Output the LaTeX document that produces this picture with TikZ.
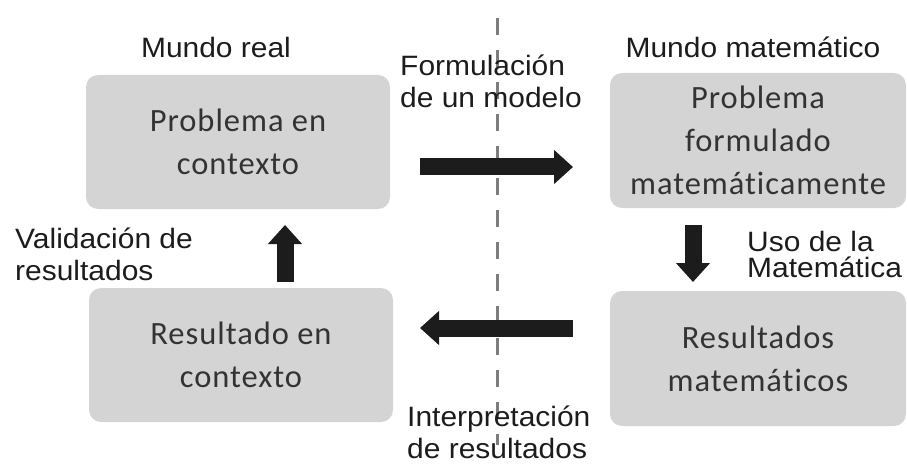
\documentclass[tikz,border=0pt]{standalone}
\usepackage{fontspec}
\setmainfont{Liberation Sans}[FakeStretch=1.07]
\newfontfamily\cajafont[LetterSpace=3,Ligatures=NoCommon]{Carlito}
\usepackage{tikz}
\usetikzlibrary{arrows.meta}
\definecolor{cajagris}{RGB}{212,212,212}
\definecolor{tinta}{RGB}{28,28,28}
\definecolor{guiones}{RGB}{125,125,125}

\tikzset{
  caja/.style={rectangle,rounded corners=12pt,fill=cajagris,text=tinta!90,
    font=\cajafont\fontsize{32.5}{43}\selectfont,align=center,inner sep=0pt},
  rotulo/.style={font=\fontsize{28}{32}\selectfont,text=tinta,align=left,inner sep=0pt},
  flecha/.style={tinta,line width=17pt,-{Triangle[length=19pt,width=33pt]}},
}

\begin{document}
\begin{tikzpicture}[x=1pt,y=-1pt]
\useasboundingbox (0,0) rectangle (907,465);

\coordinate (corte arriba) at (497,18);
\coordinate (corte abajo) at (497,445);
\draw[guiones,line width=3pt,dash pattern=on 17pt off 15pt] (corte arriba) -- (corte abajo);

\node[caja,minimum width=304pt,minimum height=134pt] (pc) at (238,142) {Problema en\\contexto};
\node[caja,minimum width=296pt,minimum height=135pt] (pf) at (758,140.5) {Problema\\formulado\\matemáticamente};
\node[caja,minimum width=304pt,minimum height=134pt] (rc) at (241,355) {Resultado en\\contexto};
\node[caja,minimum width=296pt,minimum height=135pt] (rm) at (758,358.5) {Resultados\\matemáticos};

\node[rotulo] (real) at (216,47) {Mundo real};
\node[rotulo] (mate) at (753,47) {Mundo matemático};
\node[rotulo,anchor=west] (form) at (400,81) {Formulación\\de un modelo};
\node[rotulo,anchor=west] (valid) at (15,254) {Validación de\\resultados};
\node[rotulo,anchor=west,font=\fontsize{28}{26}\selectfont] (uso) at (747,254) {Uso de la\\Matemática};
\node[rotulo,anchor=west] (interp) at (407,432) {Interpretación\\de resultados};

\coordinate (f1) at (420,167);
\coordinate (f2) at (573,167);
\coordinate (u1) at (693,225);
\coordinate (u2) at (693,282);
\coordinate (i1) at (573,328);
\coordinate (i2) at (420,328);
\coordinate (v1) at (285,282);
\coordinate (v2) at (285,225);

\draw[flecha] (f1) -- (f2);
\draw[flecha] (u1) -- (u2);
\draw[flecha] (i1) -- (i2);
\draw[flecha] (v1) -- (v2);

\end{tikzpicture}
\end{document}
